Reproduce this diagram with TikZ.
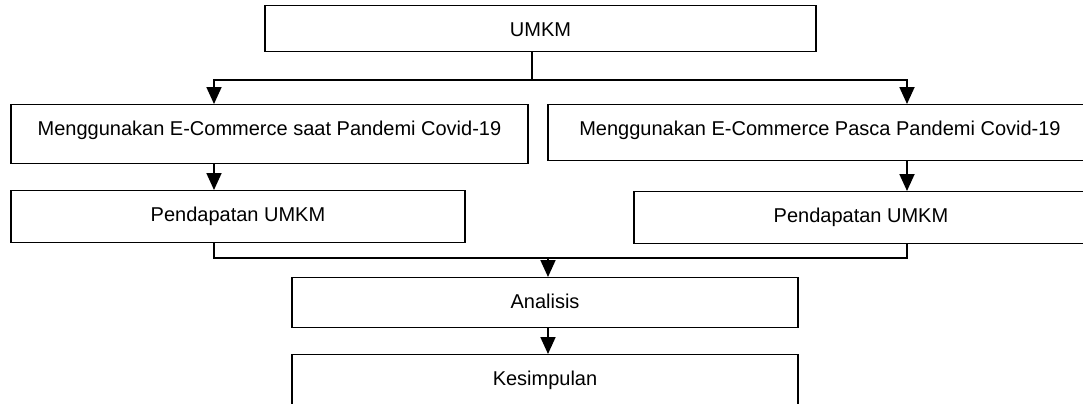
\documentclass[tikz,border=0pt]{standalone}
\usepackage{fontspec}
\setmainfont{Liberation Sans}
\usetikzlibrary{arrows.meta}

\tikzset{
    kotak/.style={draw, line width=0.6pt, anchor=north, inner xsep=0pt, inner ysep=0pt, text height=15.5pt},
    panah/.style={line width=0.9pt, -{Triangle[width=7.5pt,length=8.5pt]}},
    garis/.style={line width=0.9pt}
}

\begin{document}
\begin{tikzpicture}[x=0.5pt, y=-0.5pt, font=\fontsize{10pt}{12pt}\selectfont]

            \clip (0,0) rectangle (1083,403);

            \node[kotak, minimum width=275.5pt, text depth=7.5pt] (umkm) at (540.5,5) {UMKM};
            \node[kotak, minimum width=258.5pt, text depth=14pt] (saat) at (269.5,104) {Menggunakan E-Commerce saat Pandemi Covid-19};
            \node[kotak, minimum width=272pt, text depth=12.5pt] (pasca) at (820,104) {Menggunakan E-Commerce Pasca Pandemi Covid-19};
            \node[kotak, minimum width=227pt, text depth=10.5pt] (pendkiri) at (238,190) {Pendapatan UMKM};
            \node[kotak, minimum width=227pt, text depth=10.5pt] (pendkanan) at (861,191) {Pendapatan UMKM};
            \node[kotak, minimum width=253pt, text depth=9.5pt] (analisis) at (545,277) {Analisis};
            \node[kotak, minimum width=253pt, text depth=10.5pt] (kesimpulan) at (545,354) {Kesimpulan};

            \coordinate (cabang) at (532,80);
            \coordinate (jalurkiri) at (214,0);
            \coordinate (jalurkanan) at (907,0);
            \coordinate (gabung) at (548,258);

            \draw[garis] (umkm.south -| cabang)--(cabang);
            \draw[panah] (cabang) -| (jalurkiri |- saat.north);
            \draw[panah] (cabang) -| (jalurkanan |- pasca.north);
            \draw[panah] (jalurkiri |- saat.south)--(jalurkiri |- pendkiri.north);
            \draw[panah] (jalurkanan |- pasca.south)--(jalurkanan |- pendkanan.north);
            \draw[garis] (jalurkiri |- pendkiri.south) |- (gabung) -| (jalurkanan |- pendkanan.south);
            \draw[panah] (gabung)--(gabung |- analisis.north);
            \draw[panah] (analisis.south -| gabung)--(kesimpulan.north -| gabung);

\end{tikzpicture}
\end{document}
